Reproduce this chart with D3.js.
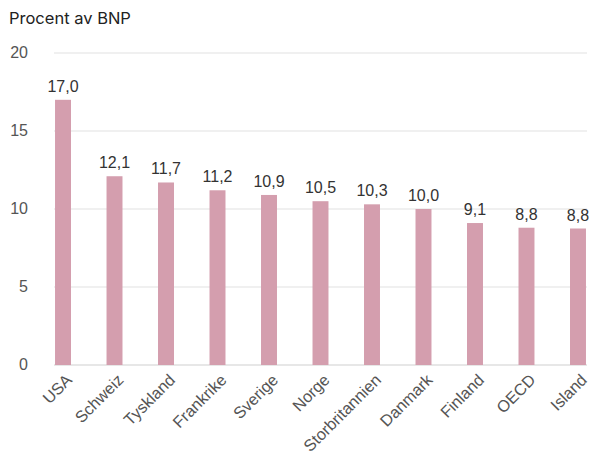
<!DOCTYPE html>
<html><head><meta charset="utf-8">
<script src="https://cdn.jsdelivr.net/npm/d3@7"></script>
<style>body{margin:0;background:#fff;} text{font-family:"Liberation Sans",Arial,sans-serif;}</style>
</head><body><svg id="c" width="590" height="457"></svg>
<script>
const categories = ["USA","Schweiz","Tyskland","Frankrike","Sverige","Norge","Storbritannien","Danmark","Finland","OECD","Island"];
const values = [17.0,12.1,11.7,11.2,10.9,10.5,10.3,10.0,9.1,8.8,8.75];
const valueLabels = ["17,0","12,1","11,7","11,2","10,9","10,5","10,3","10,0","9,1","8,8","8,8"];
const yTicks = [0,5,10,15,20];
const title = "Procent av BNP";

const svg = d3.select("#c");
const x = d3.scaleBand().domain(categories).range([54,587]).paddingInner(0.69).paddingOuter(0.02);
const y = d3.scaleLinear().domain([0,20]).range([365,53]);

svg.append("text").attr("x",9).attr("y",24).attr("font-size",16.5).attr("fill","#222")
  .style("font-family","Inter,sans-serif").text(title);

const g = svg.append("g");
g.selectAll("line.grid").data(yTicks).join("line")
  .attr("x1",54).attr("x2",587).attr("y1",d=>y(d)).attr("y2",d=>y(d))
  .attr("stroke",d=>d===0?"#d0d0d0":"#e2e2e2").attr("stroke-width",1.2);
g.selectAll("text.yt").data(yTicks).join("text")
  .attr("x",28).attr("y",d=>y(d)).attr("dy","0.3em").attr("text-anchor","end")
  .attr("font-size",16).attr("fill","#555").text(d=>d);

g.selectAll("rect").data(categories).join("rect")
  .attr("x",d=>x(d)).attr("width",x.bandwidth())
  .attr("y",(d,i)=>y(values[i])).attr("height",(d,i)=>y(0)-y(values[i]))
  .attr("fill","#d49eae");

g.selectAll("text.vl").data(categories).join("text")
  .attr("x",d=>x(d)+x.bandwidth()/2).attr("y",(d,i)=>y(values[i])-8)
  .attr("text-anchor","middle").attr("font-size",16).attr("fill","#333")
  .text((d,i)=>valueLabels[i]);

g.selectAll("text.xl").data(categories).join("text")
  .attr("transform",d=>`translate(${x(d)+x.bandwidth()/2+6},${y(0)+12}) rotate(-45)`)
  .attr("text-anchor","end").attr("dy","0.35em").attr("font-size",16.3).attr("fill","#555")
  .text(d=>d);
</script></body></html>
